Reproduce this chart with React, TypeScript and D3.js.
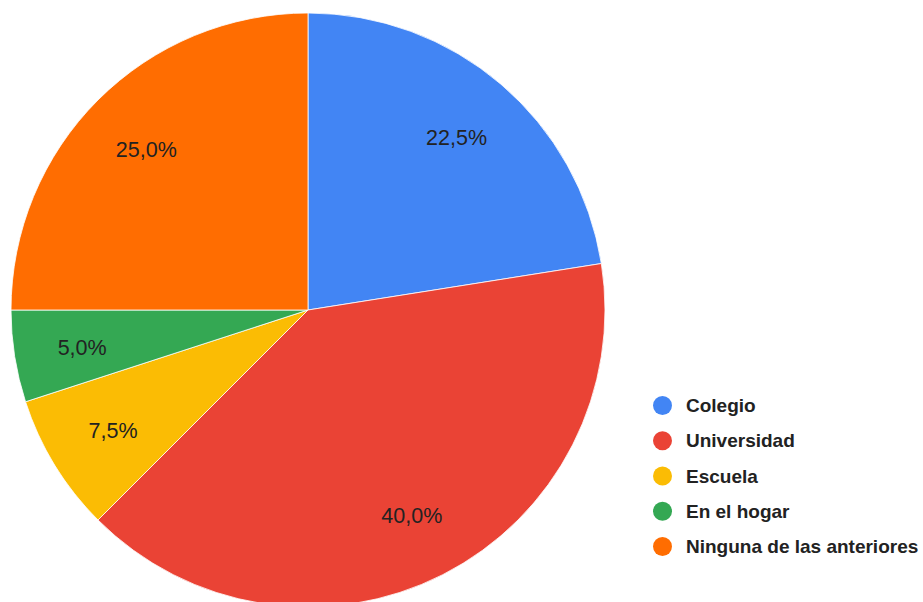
import React from "react";
import * as d3 from "d3";

const categories = ["Colegio", "Universidad", "Escuela", "En el hogar", "Ninguna de las anteriores"];
const values = [22.5, 40.0, 7.5, 5.0, 25.0];
const colors = ["#4285F4", "#EA4335", "#FBBC04", "#34A853", "#FF6D01"];

export default function App() {
  const width = 923;
  const height = 602;
  const cx = 308;
  const cy = 310;
  const r = 297;
  const pie = d3.pie<number>().sort(null).value((d) => d)(values);
  const arc = d3.arc<d3.PieArcDatum<number>>().innerRadius(0).outerRadius(r);
  const labelArc = d3.arc<d3.PieArcDatum<number>>().innerRadius(r * 0.77).outerRadius(r * 0.77);
  const fmt = (v: number) => v.toFixed(1).replace(".", ",") + "%";
  const legendY = d3.scalePoint<number>().domain(d3.range(categories.length)).range([405.5, 546.5]);
  return (
    <svg width={width} height={height} style={{ position: "absolute", left: 0, top: 0, background: "#fff" }}>
      <g transform={`translate(${cx},${cy})`}>
        {pie.map((p, i) => (
          <path key={i} d={arc(p) || ""} fill={colors[i]} stroke="#fff" strokeWidth={0.8} />
        ))}
        {pie.map((p, i) => {
          const [x, y] = labelArc.centroid(p);
          return (
            <text key={i} x={x} y={y + 2} textAnchor="middle" dominantBaseline="central"
              fontFamily="'Liberation Sans', Arial, sans-serif" fontSize={21.5} fill="#222">
              {fmt(values[i])}
            </text>
          );
        })}
      </g>
      {categories.map((c, i) => (
        <g key={c} transform={`translate(0,${legendY(i)})`}>
          <circle cx={662.5} cy={0} r={9.5} fill={colors[i]} />
          <text x={686} y={0} dominantBaseline="central" fontFamily="'Liberation Sans', Arial, sans-serif"
            fontWeight="bold" fontSize={19} fill="#222">
            {c}
          </text>
        </g>
      ))}
    </svg>
  );
}
